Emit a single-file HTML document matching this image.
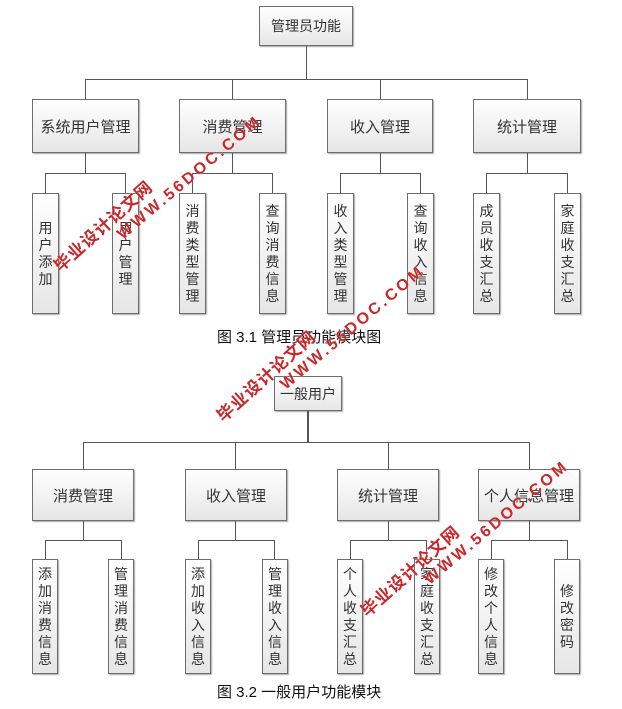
<!DOCTYPE html>
<html><head><meta charset="utf-8"><style>
body{margin:0;background:#fff;width:622px;height:709px;position:relative;overflow:hidden;font-family:"Liberation Sans","Noto Sans CJK SC",sans-serif;}
.b{position:absolute;box-sizing:border-box;border:1px solid #6d6d6d;background:linear-gradient(#ffffff,#e6e6e6);box-shadow:1px 1px 1px #aaa;display:flex;align-items:center;justify-content:center;color:#333;font-size:15px;}
.v{font-size:14px;line-height:17px;text-align:center;flex-direction:column;}
.h{position:absolute;height:1px;background:#555;}
.l{position:absolute;width:1px;background:#555;}
.cap{position:absolute;font-size:15px;color:#111;white-space:nowrap;}
.wm{position:absolute;color:#c8282a;font-weight:bold;line-height:18px;height:18px;white-space:nowrap;transform-origin:0 50%;text-shadow:0 0 1px #fff;}
.a{transform:rotate(-42deg);font-size:17px;letter-spacing:1px;}
.w{transform:rotate(-40deg);font-size:16px;letter-spacing:3px;}
</style></head><body>
<!-- top -->
<div class="b" style="left:259px;top:6px;width:94px;height:40px;font-size:14px">管理员功能</div>
<div class="l" style="left:306px;top:46px;height:33px"></div>
<div class="h" style="left:85px;top:79px;width:443px"></div>
<div class="l" style="left:85px;top:79px;height:20px"></div>
<div class="l" style="left:232px;top:79px;height:20px"></div>
<div class="l" style="left:380px;top:79px;height:20px"></div>
<div class="l" style="left:527px;top:79px;height:20px"></div>
<div class="b" style="left:32px;top:99px;width:107px;height:54px">系统用户管理</div>
<div class="b" style="left:179px;top:99px;width:107px;height:54px">消费管理</div>
<div class="b" style="left:327px;top:99px;width:106px;height:54px">收入管理</div>
<div class="b" style="left:473px;top:99px;width:108px;height:54px">统计管理</div>
<div class="l" style="left:85px;top:153px;height:20px"></div>
<div class="l" style="left:232px;top:153px;height:20px"></div>
<div class="l" style="left:380px;top:153px;height:20px"></div>
<div class="l" style="left:527px;top:153px;height:20px"></div>
<div class="h" style="left:45px;top:173px;width:81px"></div>
<div class="h" style="left:192px;top:173px;width:81px"></div>
<div class="h" style="left:340px;top:173px;width:81px"></div>
<div class="h" style="left:486px;top:173px;width:82px"></div>
<div class="l" style="left:45px;top:173px;height:20px"></div><div class="l" style="left:125px;top:173px;height:20px"></div>
<div class="l" style="left:192px;top:173px;height:20px"></div><div class="l" style="left:272px;top:173px;height:20px"></div>
<div class="l" style="left:340px;top:173px;height:20px"></div><div class="l" style="left:420px;top:173px;height:20px"></div>
<div class="l" style="left:486px;top:173px;height:20px"></div><div class="l" style="left:567px;top:173px;height:20px"></div>
<div class="b v" style="left:32px;top:193px;width:27px;height:121px">用<br>户<br>添<br>加</div>
<div class="b v" style="left:112px;top:193px;width:27px;height:121px">用<br>户<br>管<br>理</div>
<div class="b v" style="left:179px;top:193px;width:27px;height:121px">消<br>费<br>类<br>型<br>管<br>理</div>
<div class="b v" style="left:259px;top:193px;width:27px;height:121px">查<br>询<br>消<br>费<br>信<br>息</div>
<div class="b v" style="left:327px;top:193px;width:27px;height:121px">收<br>入<br>类<br>型<br>管<br>理</div>
<div class="b v" style="left:407px;top:193px;width:27px;height:121px">查<br>询<br>收<br>入<br>信<br>息</div>
<div class="b v" style="left:473px;top:193px;width:27px;height:121px">成<br>员<br>收<br>支<br>汇<br>总</div>
<div class="b v" style="left:554px;top:193px;width:27px;height:121px">家<br>庭<br>收<br>支<br>汇<br>总</div>
<div class="cap" style="left:217px;top:326px">图 3.1 管理员功能模块图</div>
<!-- bottom -->
<div class="b" style="left:274px;top:376px;width:68px;height:35px;font-size:14px">一般用户</div>
<div class="l" style="left:307px;top:411px;height:31px;width:2px"></div>
<div class="h" style="left:83px;top:442px;width:447px"></div>
<div class="l" style="left:83px;top:442px;height:27px"></div>
<div class="l" style="left:235px;top:442px;height:27px"></div>
<div class="l" style="left:388px;top:442px;height:27px"></div>
<div class="l" style="left:529px;top:442px;height:27px"></div>
<div class="b" style="left:32px;top:469px;width:102px;height:52px">消费管理</div>
<div class="b" style="left:185px;top:469px;width:102px;height:52px">收入管理</div>
<div class="b" style="left:337px;top:469px;width:102px;height:52px">统计管理</div>
<div class="b" style="left:478px;top:469px;width:102px;height:52px">个人信息管理</div>
<div class="l" style="left:83px;top:521px;height:19px"></div>
<div class="l" style="left:235px;top:521px;height:19px"></div>
<div class="l" style="left:388px;top:521px;height:19px"></div>
<div class="l" style="left:529px;top:521px;height:19px"></div>
<div class="h" style="left:45px;top:540px;width:77px"></div>
<div class="h" style="left:198px;top:540px;width:77px"></div>
<div class="h" style="left:350px;top:540px;width:77px"></div>
<div class="h" style="left:491px;top:540px;width:77px"></div>
<div class="l" style="left:45px;top:540px;height:19px"></div><div class="l" style="left:121px;top:540px;height:19px"></div>
<div class="l" style="left:198px;top:540px;height:19px"></div><div class="l" style="left:274px;top:540px;height:19px"></div>
<div class="l" style="left:350px;top:540px;height:19px"></div><div class="l" style="left:426px;top:540px;height:19px"></div>
<div class="l" style="left:491px;top:540px;height:19px"></div><div class="l" style="left:567px;top:540px;height:19px"></div>
<div class="b v" style="left:32px;top:559px;width:26px;height:115px">添<br>加<br>消<br>费<br>信<br>息</div>
<div class="b v" style="left:108px;top:559px;width:26px;height:115px">管<br>理<br>消<br>费<br>信<br>息</div>
<div class="b v" style="left:185px;top:559px;width:26px;height:115px">添<br>加<br>收<br>入<br>信<br>息</div>
<div class="b v" style="left:262px;top:559px;width:26px;height:115px">管<br>理<br>收<br>入<br>信<br>息</div>
<div class="b v" style="left:337px;top:559px;width:26px;height:115px">个<br>人<br>收<br>支<br>汇<br>总</div>
<div class="b v" style="left:414px;top:559px;width:26px;height:115px">家<br>庭<br>收<br>支<br>汇<br>总</div>
<div class="b v" style="left:478px;top:559px;width:26px;height:115px">修<br>改<br>个<br>人<br>信<br>息</div>
<div class="b v" style="left:554px;top:559px;width:26px;height:115px">修<br>改<br>密<br>码</div>
<div class="cap" style="left:217px;top:681px">图 3.2 一般用户功能模块</div>
<!-- watermarks -->
<div class="wm a" style="left:57px;top:260px">毕业设计论文网</div>
<div class="wm w" style="left:120px;top:228px">WWW.56DOC.COM</div>
<div class="wm a" style="left:220px;top:410px">毕业设计论文网</div>
<div class="wm w" style="left:283px;top:378px">WWW.56DOC.COM</div>
<div class="wm a" style="left:364px;top:605px">毕业设计论文网</div>
<div class="wm w" style="left:427px;top:573px">WWW.56DOC.COM</div>
</body></html>
